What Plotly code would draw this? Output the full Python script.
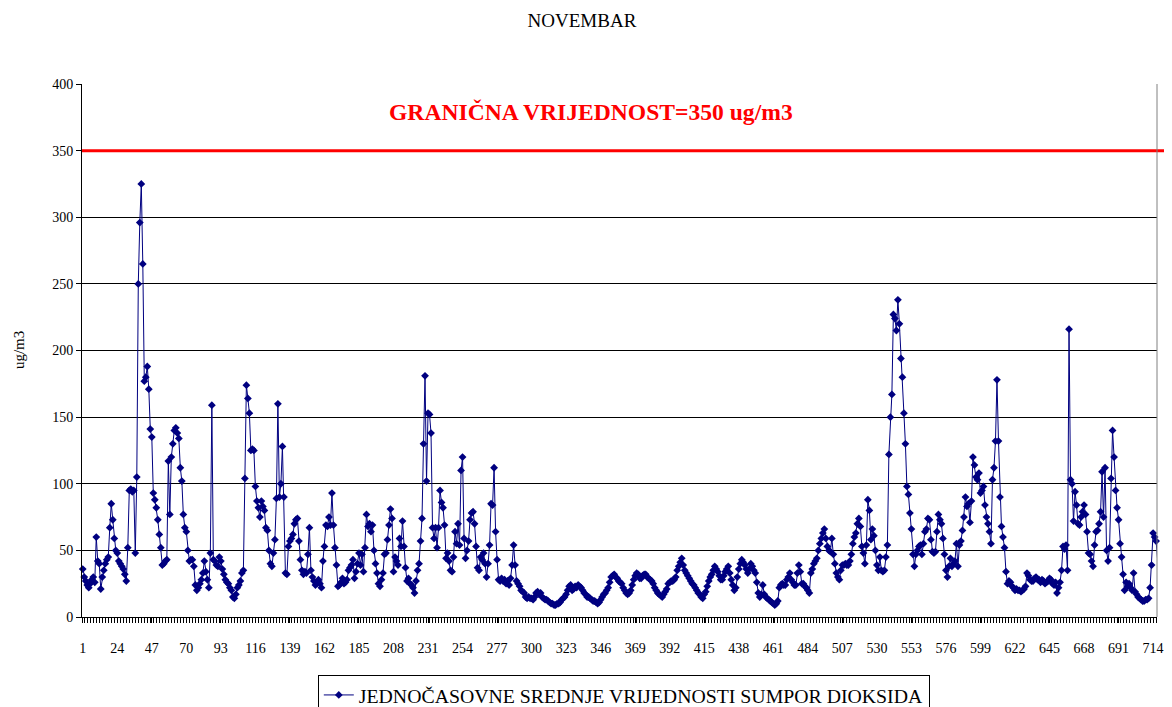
import plotly.graph_objects as go

# Jednočasovne srednje vrijednosti SO2 (ug/m3), novembar - po danima (24 sata)
dan01 = [36, 30, 27, 24, 22, 25, 28, 30, 26, 60, 42, 40, 21, 30, 35, 40, 43, 45, 67, 85, 73, 59, 50, 48]
dan02 = [42, 40, 38, 36, 32, 27, 52, 95, 96, 94, 95, 48, 105, 250, 296, 325, 265, 177, 180, 188, 171, 141, 135, 93]
dan03 = [88, 82, 73, 62, 52, 39, 40, 42, 43, 117, 77, 120, 130, 140, 142, 138, 134, 112, 102, 77, 67, 64, 50, 42]
dan04 = [43, 43, 38, 24, 20, 22, 25, 28, 33, 42, 34, 28, 22, 48, 159, 43, 42, 39, 38, 45, 42, 36, 32, 28]
dan05 = [26, 25, 22, 20, 15, 14, 17, 22, 24, 27, 33, 35, 104, 174, 164, 153, 125, 126, 125, 98, 87, 82, 75, 87]
dan06 = [83, 80, 67, 65, 50, 40, 38, 48, 58, 89, 160, 90, 100, 128, 90, 33, 32, 53, 57, 59, 62, 70, 73, 74]
dan07 = [57, 43, 35, 32, 34, 33, 47, 67, 35, 30, 27, 24, 25, 28, 25, 22, 42, 53, 69, 68, 75, 69, 93, 69]
dan08 = [52, 39, 23, 24, 26, 29, 25, 26, 28, 35, 37, 39, 43, 29, 34, 40, 48, 39, 47, 34, 52, 77, 68, 70]
dan09 = [64, 69, 50, 40, 33, 25, 23, 28, 33, 47, 48, 58, 69, 81, 74, 34, 45, 42, 39, 59, 53, 72, 53, 37]
dan10 = [27, 29, 25, 24, 22, 18, 27, 35, 40, 57, 74, 130, 181, 102, 153, 152, 138, 67, 59, 67, 52, 67, 95, 86]
dan11 = [82, 69, 44, 48, 42, 35, 34, 45, 64, 55, 70, 54, 110, 120, 59, 44, 50, 57, 73, 78, 79, 70, 53, 37]
dan12 = [35, 45, 43, 48, 40, 30, 40, 54, 85, 84, 112, 64, 43, 28, 27, 29, 27, 28, 25, 27, 24, 29, 39, 54]
dan13 = [39, 27, 25, 23, 20, 19, 18, 15, 14, 15, 14, 14, 13, 15, 18, 19, 17, 18, 15, 14, 13, 13, 12, 11]
dan14 = [10, 10, 9, 9, 10, 10, 11, 13, 14, 15, 17, 20, 23, 24, 20, 21, 23, 22, 24, 23, 22, 20, 18, 17]
dan15 = [15, 15, 14, 13, 12, 12, 11, 10, 11, 13, 15, 17, 18, 20, 22, 26, 30, 31, 32, 30, 29, 27, 26, 25]
dan16 = [22, 20, 18, 17, 18, 20, 24, 28, 31, 33, 32, 29, 29, 31, 32, 32, 30, 29, 28, 27, 25, 22, 20, 18]
dan17 = [17, 16, 15, 17, 19, 21, 25, 26, 27, 27, 28, 30, 35, 38, 41, 44, 39, 35, 33, 31, 29, 27, 25, 24]
dan18 = [22, 20, 18, 17, 15, 14, 17, 19, 23, 27, 30, 32, 35, 38, 36, 34, 31, 28, 28, 31, 34, 36, 38, 33]
dan19 = [28, 24, 20, 22, 30, 36, 40, 43, 41, 39, 36, 33, 36, 40, 38, 35, 33, 26, 18, 15, 17, 24, 17, 15]
dan20 = [14, 13, 12, 11, 10, 9, 10, 12, 22, 24, 25, 24, 24, 28, 30, 33, 28, 26, 24, 24, 33, 39, 34, 25]
dan21 = [25, 23, 22, 20, 18, 33, 36, 40, 42, 44, 50, 55, 59, 63, 66, 59, 53, 50, 49, 59, 47, 40, 33, 30]
dan22 = [28, 35, 39, 39, 40, 39, 39, 42, 47, 55, 60, 63, 70, 74, 68, 53, 48, 40, 54, 88, 80, 58, 66, 61]
dan23 = [50, 39, 35, 45, 35, 34, 35, 45, 54, 122, 150, 167, 227, 224, 215, 238, 220, 194, 180, 153, 130, 98, 92, 78]
dan24 = [66, 47, 38, 47, 50, 53, 54, 47, 55, 64, 66, 74, 73, 58, 49, 48, 49, 64, 77, 73, 70, 59, 47, 35]
dan25 = [30, 38, 44, 38, 40, 42, 55, 38, 54, 57, 65, 75, 90, 83, 85, 71, 87, 120, 114, 105, 103, 108, 93, 95]
dan26 = [98, 84, 75, 70, 64, 55, 103, 112, 132, 178, 132, 90, 68, 60, 52, 34, 25, 27, 26, 23, 22, 20, 21, 20]
dan27 = [20, 19, 20, 21, 23, 33, 31, 28, 27, 27, 29, 30, 28, 28, 26, 28, 27, 25, 26, 27, 29, 28, 25, 24]
dan28 = [26, 18, 22, 26, 35, 53, 51, 54, 35, 216, 103, 100, 72, 94, 84, 70, 69, 75, 79, 84, 77, 64, 48, 47]
dan29 = [42, 38, 54, 64, 65, 70, 79, 109, 75, 112, 50, 42, 52, 104, 140, 120, 95, 82, 73, 55, 45, 32, 20, 26]
dan30 = [23, 25, 22, 20, 33, 19, 17, 15, 14, 13, 12, 12, 13, 13, 14, 22, 39, 63, 60, 57, 43]

dani = [dan01, dan02, dan03, dan04, dan05, dan06, dan07, dan08, dan09, dan10,
        dan11, dan12, dan13, dan14, dan15, dan16, dan17, dan18, dan19, dan20,
        dan21, dan22, dan23, dan24, dan25, dan26, dan27, dan28, dan29, dan30]

so2 = [v for d in dani for v in d]
sati = list(range(1, len(so2) + 1))

# oznake na x osi (svaki 23. sat)
x_oznake = [1, 24, 47, 70, 93, 116, 139, 162, 185, 208, 231, 254, 277, 300, 323,
            346, 369, 392, 415, 438, 461, 484, 507, 530, 553, 576, 599, 622, 645, 668, 691, 714]

granica = 350
font_serif = "Liberation Serif, Times New Roman, serif"

fig = go.Figure()

fig.add_trace(
    go.Scatter(
        x=sati,
        y=so2,
        mode="lines+markers",
        line=dict(color="#000080", width=1),
        marker=dict(symbol="diamond", size=6, color="#000080"),
        name="JEDNOČASOVNE SREDNJE VRIJEDNOSTI SUMPOR DIOKSIDA",
        cliponaxis=False,
    )
)

# granična vrijednost
fig.add_shape(
    type="line", xref="paper", yref="y",
    x0=0, x1=1.0075, y0=granica, y1=granica,
    line=dict(color="#ff0000", width=3),
)
# desna ivica plota
fig.add_shape(
    type="line", xref="paper", yref="paper",
    x0=1, x1=1, y0=0, y1=1,
    line=dict(color="#808080", width=1),
)

fig.add_annotation(
    text="<b>GRANIČNA VRIJEDNOST=350 ug/m3</b>",
    xref="paper", yref="y", x=0.4738, y=379,
    showarrow=False,
    font=dict(family=font_serif, size=23.6, color="#ff0000"),
)

fig.add_annotation(
    text="ug/m3",
    xref="paper", yref="paper", x=-0.059, y=0.5,
    xanchor="center", yanchor="middle",
    textangle=-90, showarrow=False,
    font=dict(family=font_serif, size=15, color="black"),
)

# stranica ima 8 px margine, pa figura počinje na (8, 8);
# figura je viša od prozora da legenda ne bi pomjerala plot
fig.update_layout(
    width=1164,
    height=740,
    margin=dict(l=74, r=8, t=76, b=131),
    paper_bgcolor="white",
    plot_bgcolor="white",
    font=dict(family=font_serif, size=13, color="black"),
    title=dict(
        text="NOVEMBAR",
        x=0.4931, xanchor="center",
        y=1 - 12 / 740, yanchor="middle", yref="container",
        font=dict(family=font_serif, size=19, color="black"),
    ),
    showlegend=True,
    legend=dict(
        orientation="h",
        x=0.504, xanchor="center",
        y=-0.108, yanchor="top",
        bordercolor="black", borderwidth=1,
        font=dict(family=font_serif, size=19.8, color="black"),
    ),
    xaxis=dict(
        range=[0.5, 716.6],
        tickmode="array",
        tickvals=x_oznake,
        ticktext=[str(v) for v in x_oznake],
        showgrid=False,
        zeroline=False,
        showline=True,
        linecolor="black",
        linewidth=1,
        ticks="outside",
        ticklen=5,
        tickcolor="black",
        ticklabelstandoff=13,
        minor=dict(ticks="outside", dtick=2, ticklen=5, tickcolor="black"),
        tickfont=dict(family=font_serif, size=14),
    ),
    yaxis=dict(
        range=[0, 400],
        dtick=50,
        showgrid=True,
        gridcolor="black",
        gridwidth=1,
        zeroline=False,
        showline=True,
        linecolor="black",
        linewidth=1,
        ticks="outside",
        ticklen=5,
        tickcolor="black",
        tickfont=dict(family=font_serif, size=14),
    ),
)

fig.write_html("out.html")
